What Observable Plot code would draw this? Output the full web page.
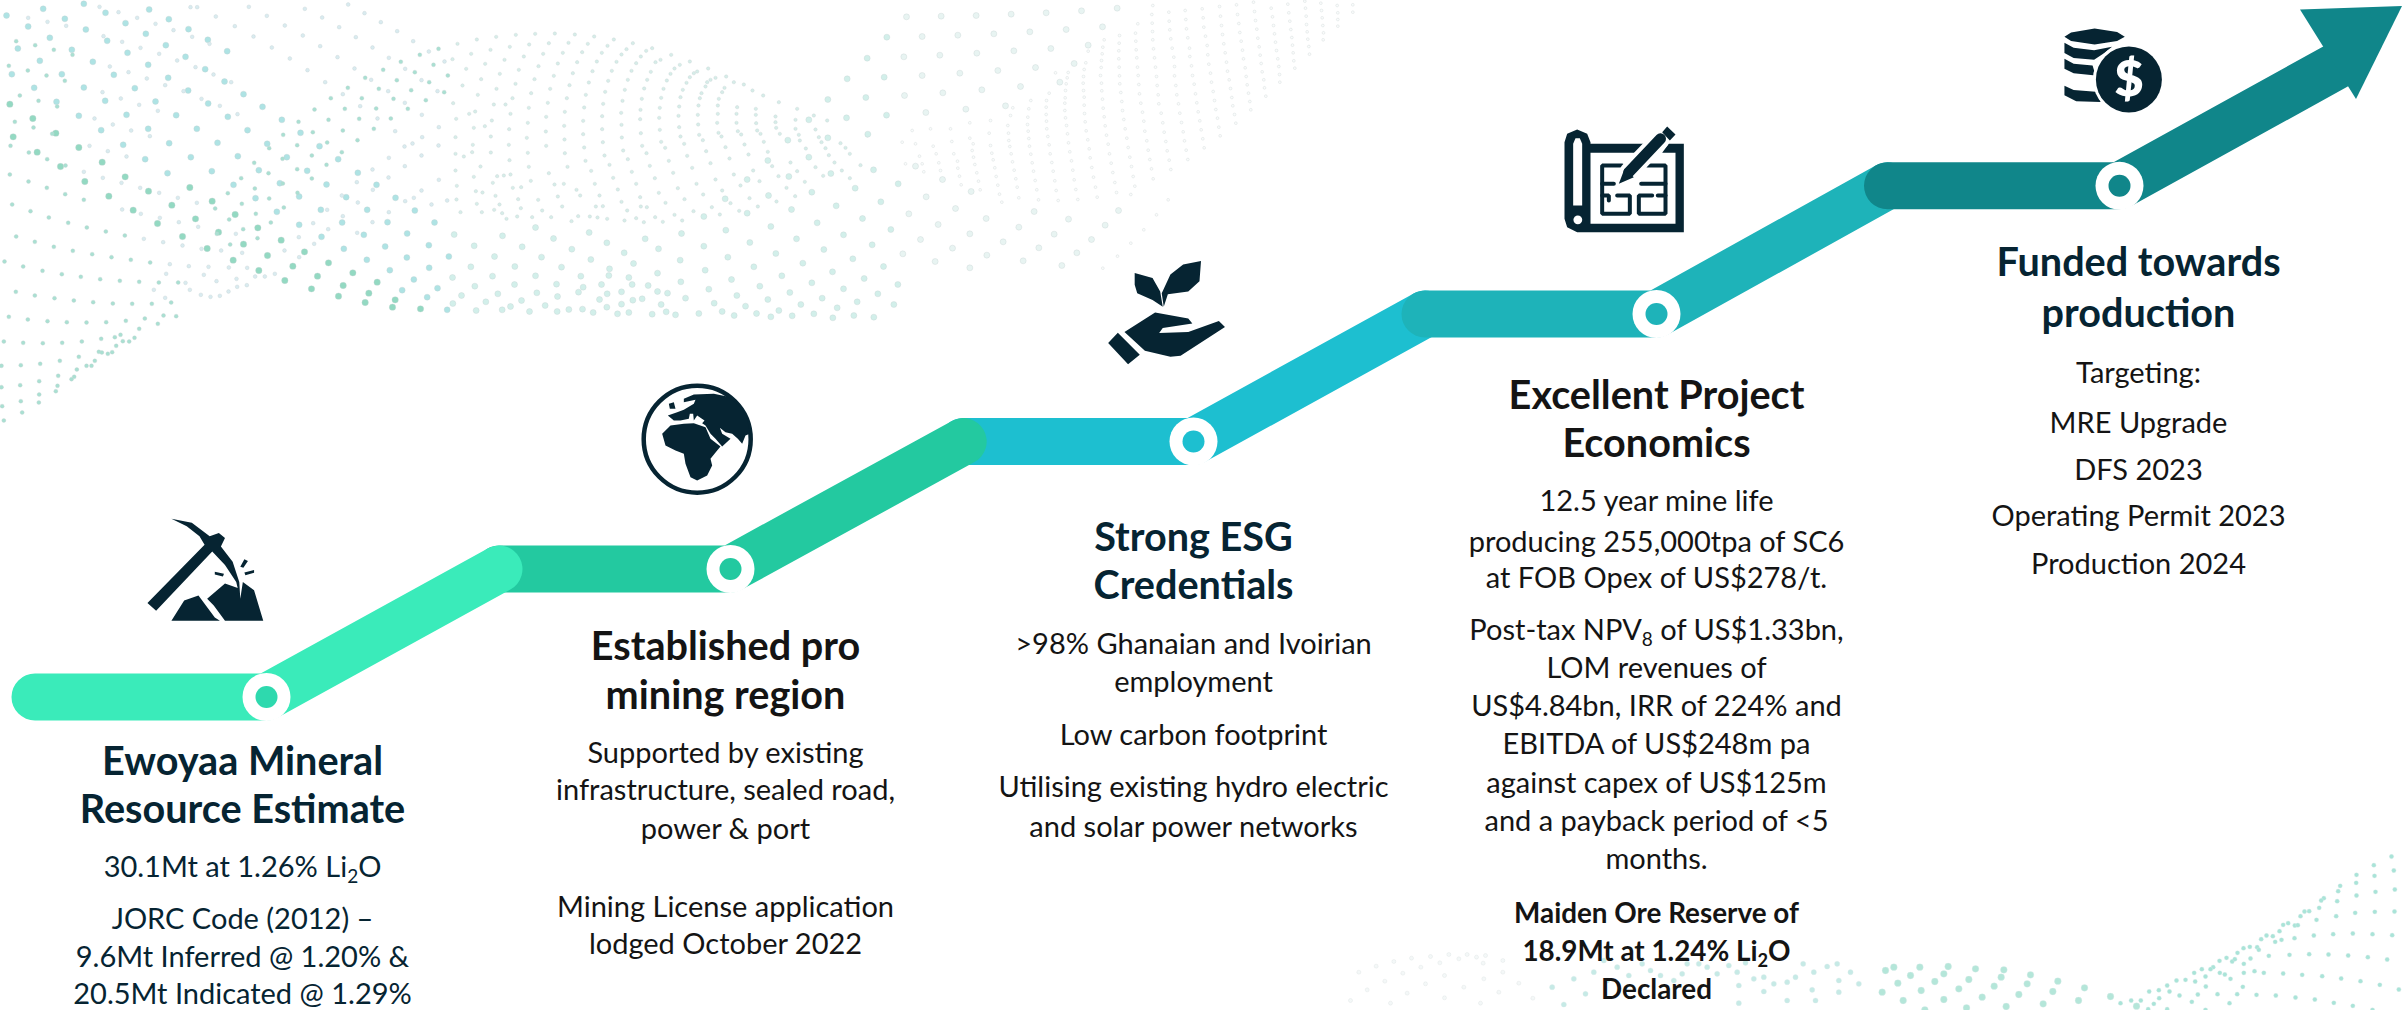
<!DOCTYPE html>
<html><head><meta charset="utf-8">
<style>html,body{margin:0;padding:0;background:#fff}svg{display:block}</style>
<script src="https://cdn.jsdelivr.net/npm/d3@7"></script>
<script src="https://cdn.jsdelivr.net/npm/@observablehq/plot@0.6"></script>
</head><body><div id="chart"></div>
<script>
// ---- crop read-offs: each list is in the pixels of one 3x crop of the picture
const leftBig=[[18,45],[128,25],[83,78],[193,55],[250,10],[315,37],[148,112],[256,87],[375,68],[446,27],[52,144],[214,148],[320,121],[436,100],[505,56],[118,181],[277,184],[381,157],[496,134],[564,86],[34,221],[184,221],[340,223],[443,193],[555,169],[622,118],[101,262],[250,261],[403,263],[503,232],[614,206],[680,152],[28,311],[168,304],[314,301],[465,303],[563,270],[672,243],[97,354],[235,346],[378,343],[527,344],[623,309],[729,281],[38,409],[166,398],[302,389],[443,385],[589,385],[682,349],[786,319],[110,455],[235,441],[368,433],[506,428],[651,427],[741,389],[844,358],[180,498],[305,485],[434,476],[571,470],[712,467],[800,430],[900,397],[253,543],[374,529],[501,518],[634,512],[775,509],[859,470],[957,437],[325,587],[444,572],[568,561],[699,553],[838,548],[920,511],[1013,476],[398,629],[514,614],[635,602],[765,593],[896,588],[978,552],[1072,517],[471,669],[585,655],[704,642],[829,634],[961,628],[1037,590],[1128,553],[546,708],[654,695],[772,682],[896,673],[1025,666],[1100,628],[1185,592],[620,744],[729,731],[842,719],[963,709],[1090,703],[1161,665],[1243,630],[698,779],[801,765],[912,754],[1030,745],[1154,738],[1220,699],[1302,666],[775,810],[877,797],[984,787],[1099,778],[1219,771],[1285,734],[853,840],[951,827],[1057,817],[1168,809],[1286,802],[1345,768],[933,865],[1028,855],[1130,845],[1240,837],[1014,887],[1105,878],[1205,869],[1311,863],[1094,906],[1184,898],[1280,890],[1176,920],[1260,925],[1340,928]];
const leftSmall=[[47,122],[104,134],[160,148],[216,163],[25,196],[82,210],[138,225],[193,241],[58,285],[114,301],[170,318],[43,364],[99,381],[155,400],[30,436],[85,456],[140,476],[195,495],[28,522],[84,543],[139,562],[194,581],[250,598],[35,612],[90,632],[145,651],[203,667],[259,681],[316,693],[373,705],[47,708],[103,724],[160,739],[217,751],[275,761],[333,770],[391,778],[449,786],[12,783],[68,798],[126,811],[184,821],[241,829],[299,836],[358,841],[416,844],[475,846],[533,846],[46,874],[103,885],[162,893],[220,900],[278,905],[337,909],[395,910],[454,910],[512,906],[25,949],[82,957],[141,962],[199,965],[258,966],[317,965],[376,961],[433,954],[489,945],[10,1023],[68,1027],[127,1028],[185,1027],[244,1023],[302,1015],[360,1003],[416,985],[472,970],[527,947],[3,1096],[61,1094],[119,1090],[178,1081],[235,1069],[295,1054],[347,1036],[402,1012],[3,1160],[59,1154],[116,1142],[173,1126],[229,1107],[283,1081],[335,1055],[386,1023],[5,1217],[61,1202],[116,1182],[171,1156],[221,1129],[273,1096],[322,1060],[367,1022],[10,1260],[65,1236],[115,1206],[166,1172],[213,1136],[258,1096],[304,1056],[343,1010],[1258,163],[1314,145],[1201,184],[1148,208],[1094,232],[1042,262],[991,293],[942,327],[894,364],[848,403],[806,443],[761,487],[722,533],[682,578],[644,624],[1299,193],[1243,215],[1189,239],[1135,265],[1084,293],[1033,325],[984,358],[937,395],[890,434],[846,475],[804,518],[763,564],[724,610],[686,657],[649,700],[1342,225],[1286,245],[1232,269],[1179,295],[1127,324],[1076,355],[1027,390],[980,426],[934,465],[890,506],[847,549],[806,594],[766,640],[728,686],[689,732],[1331,275],[1276,299],[1222,325],[1171,354],[1120,385],[1071,419],[1024,455],[978,493],[934,534],[891,577],[850,621],[811,666],[771,713]];
const leftPale=[[83,52],[141,64],[197,76],[297,19],[354,35],[410,52],[465,70],[519,89],[575,109],[627,130],[309,107],[365,124],[420,142],[476,160],[530,180],[585,200],[639,222],[692,245],[328,198],[384,215],[439,234],[494,254],[549,272],[603,295],[658,316],[711,341],[306,275],[361,294],[416,313],[472,331],[282,354],[337,372],[392,390],[448,407],[267,436],[322,452],[378,468],[250,514],[307,532],[363,547],[419,562],[476,577],[532,592],[589,607],[365,627],[421,640],[478,652],[535,665],[593,679],[706,700],[430,715],[488,725],[546,735],[603,745],[662,750],[725,757],[508,791],[565,797],[624,799],[685,801],[740,802],[497,820],[555,847],[610,823],[648,842],[708,835],[764,828],[823,820],[460,868],[494,892],[568,868],[601,883],[630,889],[658,886],[684,873],[710,859],[739,854],[793,828],[570,20],[590,20],[646,48],[703,77],[759,108],[814,141],[868,174],[921,209],[974,245],[1027,281],[1079,317],[1131,354],[1184,392],[1236,429],[745,19],[799,46],[853,75],[907,105],[959,137],[1011,170],[1062,204],[1112,238],[1163,272],[1213,307],[1264,343],[1315,380],[913,25],[965,51],[1016,80],[1066,110],[1116,141],[1165,172],[1214,205],[1263,239],[1311,272],[1043,12],[1092,38],[1141,65],[1190,92],[1238,122],[1285,153],[1332,183],[1265,410],[1212,438],[1165,472],[1116,507],[1069,545],[1024,585],[980,628],[938,668],[895,710],[852,750],[1314,435],[1263,465],[1213,497],[1164,531],[1117,568],[1072,606],[1027,647],[983,686],[941,730],[896,770],[1315,538],[1263,570],[1214,602],[1165,635],[1116,665],[1070,697],[1340,600],[1293,612],[1240,592]];
const humpSmall=[[21,130],[79,117],[137,109],[196,103],[254,100],[313,99],[373,102],[431,108],[490,117],[547,128],[605,143],[662,163],[718,183],[773,204],[827,228],[880,252],[938,285],[985,305],[1040,325],[1090,345],[1130,360],[6,176],[62,160],[120,148],[178,139],[236,132],[295,128],[354,127],[412,130],[471,136],[528,146],[587,151],[630,178],[688,193],[740,213],[795,232],[850,245],[906,270],[47,205],[104,190],[162,178],[220,168],[278,160],[337,157],[395,155],[454,157],[513,162],[571,168],[615,185],[672,204],[730,218],[780,238],[36,255],[92,236],[148,220],[205,208],[264,197],[322,189],[380,185],[439,183],[498,184],[557,188],[601,214],[660,220],[718,230],[770,245],[822,262],[82,283],[138,265],[195,250],[252,236],[310,226],[367,218],[426,212],[484,211],[543,211],[590,238],[649,240],[708,247],[765,258],[815,275],[130,312],[186,293],[242,278],[299,265],[357,254],[415,246],[473,241],[532,238],[581,264],[639,265],[697,268],[753,278],[805,295],[180,340],[235,322],[292,307],[349,293],[406,283],[464,274],[523,268],[574,295],[632,292],[690,290],[748,293],[802,315],[860,320],[916,325],[975,348],[232,367],[287,349],[343,334],[401,321],[458,310],[516,301],[570,328],[628,322],[686,318],[744,315],[802,340],[858,340],[916,343],[975,365],[1035,358],[286,393],[341,376],[398,361],[455,347],[512,337],[569,356],[626,352],[684,346],[742,343],[800,367],[858,367],[917,368],[977,382],[1035,385],[1095,387],[342,417],[398,401],[455,386],[513,373],[571,398],[628,388],[686,380],[743,372],[804,397],[862,392],[920,390],[988,400],[1045,403],[1105,410],[287,436],[401,441],[457,425],[514,411],[575,436],[632,424],[690,408],[746,403],[813,408],[872,402],[930,400],[1048,420],[1113,425],[1170,428],[343,458],[462,465],[518,450],[588,458],[644,442],[701,430],[757,419],[825,440],[882,432],[940,424],[1066,444],[1125,443],[1185,442],[405,481],[477,493],[532,476],[598,496],[655,481],[710,466],[767,452],[894,462],[952,454],[1135,464],[1198,460],[1250,405],[235,499],[351,499],[544,514],[613,533],[668,517],[725,502],[780,488],[837,474],[1020,486],[1152,486],[1230,494],[295,518],[422,511],[488,532],[557,550],[682,563],[738,550],[795,537],[850,522],[908,510],[965,497],[1095,500],[312,552],[340,550],[433,550],[502,567],[569,590],[625,577],[702,596],[758,582],[815,570],[870,555],[927,542],[984,527],[1040,512],[1118,526],[1174,510],[378,568],[389,585],[447,585],[513,604],[571,618],[645,607],[729,632],[784,620],[840,608],[897,593],[922,618],[978,603],[1008,562],[1063,544],[1198,533],[436,618],[457,617],[530,630],[589,620],[672,643],[808,642],[866,631],[1034,587],[383,647],[441,651],[470,655],[522,660],[557,653],[614,650],[695,660],[637,664],[580,665],[17,355],[70,382],[103,377],[124,360],[176,386],[229,412],[15,410],[67,433],[121,408],[175,433],[232,457],[15,460],[65,455],[121,456],[177,479],[15,510],[70,529],[127,547],[180,522],[241,541],[19,556],[76,572],[135,586],[147,612],[203,596],[79,610],[263,598],[322,588],[30,635],[94,635],[168,655],[200,648],[245,650],[302,650],[363,662],[131,628],[211,623],[275,630],[335,618],[418,648],[165,312],[8,308],[56,340],[74,333],[40,468],[90,498],[140,527],[160,525],[187,562],[212,560],[96,576],[155,638],[18,597]];
const humpBig=[[255,681],[11,702],[156,706],[309,714],[416,696],[71,736],[215,739],[364,746],[469,727],[584,715],[760,648],[693,699],[826,689],[961,678],[1100,667],[1236,654],[1321,687],[132,768],[273,770],[421,777],[521,757],[624,745],[760,737],[898,726],[1038,715],[1179,703],[1265,733],[61,799],[193,798],[333,800],[477,805],[549,789],[689,779],[832,770],[976,759],[1120,747],[1207,775],[126,827],[255,826],[391,827],[535,831],[621,818],[764,809],[910,799],[1057,788],[1299,798],[6,831],[73,857],[192,852],[318,851],[453,852],[593,855],[691,844],[843,837],[994,826],[1146,814],[1241,834],[33,885],[142,880],[259,877],[384,875],[513,874],[651,878],[775,866],[928,857],[1084,847],[1179,865],[1342,852],[7,909],[106,904],[213,900],[321,888],[447,897],[575,895],[705,893],[859,885],[1018,876],[1282,880],[77,930],[155,928],[237,933],[320,933],[396,926],[513,911],[632,912],[791,908],[952,897],[1115,893],[1220,904],[180,918],[284,915],[355,927],[469,920],[547,899],[885,917],[1051,912],[1160,922],[1330,912],[428,936],[501,940],[535,936],[605,941],[647,934],[675,943],[745,939],[815,933],[851,945],[918,939],[985,930],[961,949],[1025,946],[1090,940],[1147,952],[1210,945],[1270,950],[475,825],[545,852],[398,860],[470,880],[621,873],[824,595],[954,585],[1023,627],[1157,616],[1291,604],[1343,550],[1214,563],[1084,575],[890,638],[890,537],[1015,528],[1141,519],[1269,508],[1075,470],[952,480],[1012,419],[1132,412],[1252,401],[1075,358],[1188,352],[1308,344],[1132,297],[1246,291],[1190,235],[1301,230],[1250,173],[1309,110]];
const farBig=[[18,49],[122,47],[227,45],[332,41],[437,37],[543,31],[650,23],[65,108],[172,104],[280,100],[388,94],[497,87],[606,79],[10,169],[118,164],[229,158],[340,151],[451,144],[563,134],[65,225],[178,218],[292,210],[405,201],[521,189],[12,285],[127,277],[244,268],[360,258],[478,245],[76,336],[196,326],[315,316],[45,497],[126,537],[212,573],[77,589],[165,624],[25,640],[257,654],[113,672],[355,680],[208,700],[60,717],[308,724],[156,743],[7,760],[259,764],[104,783],[208,802],[368,781],[401,633],[504,656],[461,701],[415,742],[654,630],[614,674],[573,717],[529,757],[484,795]];
const farSmall=[[607,803],[651,767],[691,728],[730,688],[768,643],[803,598],[691,582],[757,15],[754,42],[755,68],[756,93],[757,118],[759,145],[762,172],[765,200],[768,228],[770,255],[773,283],[775,310],[782,338],[787,367],[791,395],[796,423],[800,451],[806,479],[811,507],[712,70],[705,98],[706,122],[707,148],[709,172],[711,200],[713,225],[715,252],[717,280],[721,308],[726,335],[730,362],[733,392],[739,421],[743,449],[748,477],[753,505],[758,535],[657,105],[656,128],[655,151],[655,175],[656,200],[657,226],[658,250],[661,276],[664,303],[666,330],[670,357],[674,385],[679,413],[683,441],[688,470],[693,498],[698,528],[703,557],[611,118],[607,140],[605,160],[603,180],[602,201],[600,225],[603,248],[604,271],[606,296],[608,323],[611,349],[614,376],[618,404],[623,431],[627,460],[632,488],[637,516],[643,546],[648,576],[563,152],[556,187],[551,207],[549,228],[548,248],[549,270],[551,290],[551,314],[552,339],[554,364],[557,391],[562,418],[566,445],[569,472],[574,501],[579,530],[585,560],[590,590],[465,217],[503,216],[500,232],[497,250],[495,270],[494,292],[493,308],[493,330],[495,352],[498,375],[501,400],[504,427],[508,454],[513,481],[517,509],[521,538],[526,567],[532,597],[446,278],[438,300],[437,320],[437,342],[438,362],[439,385],[442,408],[446,433],[449,460],[454,486],[458,512],[463,541],[467,570],[473,600],[391,300],[385,325],[382,350],[381,372],[383,392],[385,414],[387,437],[391,461],[395,487],[399,512],[404,540],[409,568],[414,598],[337,322],[330,345],[322,375],[324,398],[325,420],[328,438],[332,460],[336,484],[341,509],[346,535],[350,560],[355,592],[270,360],[266,398],[270,435],[274,458],[278,478],[283,502],[287,528],[292,554],[297,581],[304,605],[208,367],[208,413],[218,430],[215,450],[219,470],[223,492],[229,517],[234,542],[239,568],[150,385],[154,423],[160,460],[171,482],[172,503],[177,527],[182,553],[90,385],[98,437],[107,460],[115,487],[120,510],[35,390],[45,430],[57,467],[65,490],[70,514],[15,490],[5,425],[805,35],[806,62],[808,88],[811,115],[815,143],[820,170],[822,198],[822,226],[826,255],[829,283],[834,310],[838,338],[843,366],[848,394],[852,421],[857,449],[862,477],[854,30],[856,57],[858,85],[862,112],[867,143],[868,168],[873,196],[876,225],[881,251],[885,280],[889,307],[893,334],[898,361],[902,388],[907,415],[911,442],[905,25],[908,52],[910,80],[915,107],[920,135],[922,163],[925,191],[930,218],[933,245],[938,273],[942,300],[946,327],[951,353],[955,380],[959,406],[957,18],[960,47],[963,75],[966,102],[970,130],[974,157],[978,185],[981,212],[986,238],[990,264],[994,291],[997,316],[1002,342],[1006,368],[1008,13],[1011,42],[1015,69],[1018,96],[1022,122],[1026,149],[1029,175],[1034,202],[1037,228],[1040,253],[1044,278],[1048,303],[1051,328],[1059,5],[1062,33],[1065,60],[1069,86],[1072,113],[1076,139],[1079,164],[1082,189],[1085,214],[1090,238],[1092,262],[1096,287],[1112,23],[1116,49],[1119,75],[1122,100],[1125,125],[1128,150],[1132,175],[1135,198],[1137,222],[1138,245],[1162,11],[1165,37],[1168,62],[1171,87],[1174,111],[1176,134],[1178,157],[1180,181],[1183,203],[1213,2],[1215,23],[1217,47],[1218,72],[1220,94],[1222,116],[1225,138],[1227,161],[1261,8],[1263,30],[1265,52],[1267,75],[1269,97],[1268,118],[1310,15],[1312,37],[1312,57],[1312,77],[1357,13],[1357,35]];
const bottomFaint=[[30,210],[55,125],[80,178],[107,107],[133,152],[150,218],[160,93],[187,128],[200,188],[213,83],[241,110],[255,160],[270,78],[298,97],[312,135],[312,202],[325,72],[355,85],[370,170],[380,72],[408,80],[420,218],[428,98],[430,145],[435,75],[475,185],[487,90],[487,125],[535,158],[577,203]];
const bottomMid=[[635,170],[670,222],[700,145],[735,190],[760,125],[800,150],[790,90],[830,110],[865,135],[905,100],[930,120],[960,135],[1000,150],[1025,130],[1040,100],[1075,100],[1100,110],[1130,130],[1165,105],[1190,125],[1195,165],[1215,97],[1240,145],[1270,140],[1270,183],[1300,160],[1340,155],[1365,140],[1340,210],[1388,100],[1420,125],[1415,178],[1460,108],[1490,100],[1495,150],[1530,125],[1495,185],[1195,218],[1555,160],[1425,210]];
const rightBig=[[15,360],[40,350],[118,350],[203,348],[285,355],[370,358],[450,373],[532,392],[612,412],[690,438],[90,375],[190,370],[265,387],[362,380],[440,400],[517,423],[594,450],[768,467],[52,398],[163,393],[235,415],[341,407],[415,432],[488,460],[122,420],[305,440],[190,447],[68,450],[377,468],[258,472],[5,425],[133,478]];
const rightSmall=[[1533,18],[1480,44],[1540,60],[1428,73],[1482,76],[1427,97],[1379,106],[1373,122],[1428,135],[1485,124],[1543,117],[1330,143],[1322,150],[1370,152],[1316,172],[1272,183],[1286,182],[1260,197],[1308,208],[1367,197],[1424,187],[1483,184],[1542,183],[1208,223],[1223,218],[1243,225],[1252,224],[1197,242],[1158,255],[1177,257],[1142,266],[1184,274],[1203,268],[1242,263],[1300,255],[1358,251],[1417,249],[1476,251],[1535,254],[1108,289],[1130,290],[1089,293],[1135,298],[1071,307],[1165,316],[1227,313],[1286,311],[1344,312],[1403,315],[1462,320],[1520,327],[1038,322],[1017,331],[1055,333],[1063,326],[1110,324],[1090,340],[998,350],[964,356],[990,356],[941,367],[1018,367],[1033,372],[1090,367],[1122,362],[1150,367],[1208,369],[1265,373],[1325,377],[1382,384],[1440,392],[1498,403],[1555,417],[975,378],[888,390],[915,388],[944,393],[1050,385],[860,405],[976,408],[1087,409],[806,423],[835,419],[867,423],[897,435],[952,432],[1011,431],[1070,431],[1128,433],[1186,435],[1245,441],[1303,447],[1360,457],[1417,466],[1476,478],[836,443],[752,450],[781,450],[720,458],[820,460],[934,454],[1047,458],[803,476],[860,476],[975,478]];

// ---- ribbon
const ribbonY=[696.5,568.5,441,313.5,185.3,66];
const ribbonX=[34.5,266,498.5,730,962.7,1193,1424.5,1656,1887,2119,2335];
const ribbonColors=["#3AEBBA","#23C9A0","#1DBFD0","#1EB3B9","#10868A"];
const holeColors=["#2ED9AE","#23C9A0","#1DBFD0","#1EB3B9","#10868A"];
const ringX=[266,730,1193,1656,2119], ringY=[696.5,568.5,441,313.5,185.3];
const arrowHead={x1:[2300,2402],y1:[9.5,6],x2:[2356,2402],y2:[99,6]};

// ---- text
const navy="#062432", ink="#141414";
const titles=[
 ["Ewoyaa Mineral",242,776,navy],["Resource Estimate",242,824,navy],
 ["Established pro",725,661,ink],["mining region",725,710,ink],
 ["Strong ESG",1193,552,navy],["Credentials",1193,600,navy],
 ["Excellent Project",1656,410,ink],["Economics",1656,458,ink],
 ["Funded towards",2138,277,navy],["production",2138,328,navy]];
const bodies=[
 ["30.1Mt at 1.26% Li₂O",242,878,navy],["JORC Code (2012) –",242,930,navy],["9.6Mt Inferred @ 1.20% &",242,968,navy],["20.5Mt Indicated @ 1.29%",242,1005,navy],
 ["Supported by existing",725,764,ink],["infrastructure, sealed road,",725,801,ink],["power & port",725,840,ink],["Mining License application",725,918,ink],["lodged October 2022",725,955,ink],
 [">98% Ghanaian and Ivoirian",1193,655,ink],["employment",1193,693,ink],["Low carbon footprint",1193,746,ink],["Utilising existing hydro electric",1193,798,ink],["and solar power networks",1193,838,ink],
 ["12.5 year mine life",1656,512,ink],["producing 255,000tpa of SC6",1656,553,ink],["at FOB Opex of US$278/t.",1656,589,ink],["Post-tax NPV₈ of US$1.33bn,",1656,641,ink],["LOM revenues of",1656,679,ink],["US$4.84bn, IRR of 224% and",1656,717,ink],["EBITDA of US$248m pa",1656,755,ink],["against capex of US$125m",1656,794,ink],["and a payback period of <5",1656,832,ink],["months.",1656,870,ink],
 ["Targeting:",2138,384,ink],["MRE Upgrade",2138,434,ink],["DFS 2023",2138,481,ink],["Operating Permit 2023",2138,527,ink],["Production 2024",2138,575,ink]];
const boldBodies=[["Maiden Ore Reserve of",1656,922,ink],["18.9Mt at 1.24% Li₂O",1656,960,ink],["Declared",1656,998,ink]];

const pickaxe=[[[335,113],[375,125],[410,165],[428,155],[440,170],[432,195],[455,240],[468,300],[470,350],[462,300],[440,250],[415,210],[305,385],[288,362],[400,190],[390,165],[365,135]],
 [[335,415],[360,355],[388,340],[420,405],[430,415]],[[440,415],[418,370],[405,350],[440,305],[465,318],[470,350],[475,300],[497,325],[515,415]],
 [[470,255],[478,233],[485,238],[476,258]],[[420,270],[438,276],[436,284],[420,278]],[[478,272],[497,265],[497,273],[480,280]]];
const globeLand=[[[160,85],[190,72],[250,70],[290,78],[325,105],[350,145],[358,190],[345,195],[335,220],[322,205],[305,190],[285,185],[268,172],[275,190],[300,205],[275,228],[255,205],[240,190],[225,165],[215,158],[222,150],[200,135],[190,150],[188,130],[178,130],[175,145],[150,150],[130,150],[112,135],[140,125],[160,118],[190,100],[195,88],[160,95]],
 [[115,100],[130,95],[135,115],[118,115]],
 [[95,190],[120,165],[160,160],[190,158],[225,170],[240,205],[270,228],[260,240],[240,265],[245,285],[230,315],[200,330],[180,320],[165,280],[160,250],[135,240],[105,225]]];
const blueprint=[[[42,80],[50,55],[80,42],[110,55],[120,80],[120,85],[285,85],[285,112],[120,112],[120,325],[375,325],[375,112],[335,112],[355,85],[400,85],[400,350],[80,350],[50,335],[42,310]]];
const blueprintSlot=[[[68,85],[75,68],[88,68],[95,85],[95,270],[68,270]]];
const planLines=[[[215,150],[155,150],[155,295],[238,295],[238,240],[200,240]],[[155,205],[190,205]],[[155,240],[175,240],[175,255]],[[290,150],[345,150],[345,295],[265,295],[265,240],[305,240]],[[272,205],[345,205]],[[322,240],[345,240]]];
const pencilShaft=[[235,170],[330,70]];
const pencilTip=[[[205,205],[222,160],[250,185]],[[335,50],[350,33],[375,57],[358,75]]];
const plant=[[[655,155],[690,170],[705,210],[710,255],[690,235],[660,215],[655,190]],
 [[785,120],[782,180],[760,210],[720,218],[712,255],[708,215],[725,160],[750,130]],
 [[635,330],[695,272],[760,290],[768,305],[710,318],[703,333],[760,330],[820,297],[832,315],[745,400],[725,403],[675,385]],
 [[603,362],[622,332],[665,397],[642,425]]];
const coins=[[[907,107],[920,95],[966,83],[1010,93],[1025,107],[1010,120],[966,130],[920,120]],
 [[907,125],[925,140],[965,147],[1000,137],[985,155],[965,175],[925,170],[907,155]],
 [[907,172],[925,187],[962,192],[968,222],[925,215],[907,202]],
 [[907,252],[925,265],[968,270],[978,300],[930,298],[907,280]]];
const coinFace={x:2128.4,y:79};

// ---- helpers
const fromCrop=(ox,oy,sx=3,sy=3)=>p=>[ox+p[0]/sx,oy+p[1]/sy];
const pts=(list,ox,oy,sx,sy)=>list.map(fromCrop(ox,oy,sx,sy));
const polys=(list,ox,oy,sx,sy)=>({type:"MultiPolygon",coordinates:list.map(r=>{const q=pts(r,ox,oy,sx,sy);return [[...q,q[0]]];})});
const cloud=(list,ox,oy,r,fill,stroke="#c4d2d2")=>Plot.dot(pts(list,ox,oy),{x:d=>d[0],y:d=>d[1],r,fill,stroke,strokeWidth:.35});
const segs=[{c:ribbonColors[2],p:[[ribbonX[4],ribbonY[2]],[ribbonX[5],ribbonY[2]],[ribbonX[6],ribbonY[3]]]},
 {c:ribbonColors[1],p:[[ribbonX[2],ribbonY[1]],[ribbonX[3],ribbonY[1]],[ribbonX[4],ribbonY[2]]]},
 {c:ribbonColors[0],p:[[ribbonX[0],ribbonY[0]],[ribbonX[1],ribbonY[0]],[ribbonX[2],ribbonY[1]]]},
 {c:ribbonColors[3],p:[[ribbonX[6],ribbonY[3]],[ribbonX[7],ribbonY[3]],[ribbonX[8],ribbonY[4]]]},
 {c:ribbonColors[4],p:[[ribbonX[8],ribbonY[4]],[ribbonX[9],ribbonY[4]],[ribbonX[10],ribbonY[5]]]}];
const ribbonMarks=segs.map(s=>Plot.line(s.p,{x:d=>d[0],y:d=>d[1],stroke:s.c,strokeWidth:47,strokeLinecap:"round",strokeLinejoin:"round"}));
const family="Lato, Carlito, sans-serif";
const words=(rows,size,weight,dy,cls)=>Plot.text(rows,{x:d=>d[1],y:d=>d[2],text:d=>d[0],fill:d=>d[3],fontSize:size,fontWeight:weight,fontFamily:family,textAnchor:"middle",lineAnchor:"bottom",dy,className:cls});
const green=(x,y)=>y>0.5*x+270;

const chart=Plot.plot({
 width:2402,height:1010,margin:0,
 style:{background:"#fff",overflow:"hidden"},
 x:{axis:null,domain:[0,2402],range:[0,2402]},
 y:{axis:null,domain:[0,1010],range:[0,1010]},
 color:{type:"identity"},
 marks:[
  cloud(leftBig.filter(p=>green(p[0],p[1])),0,0,3.2,"#93D9C2"),
  cloud(leftBig.filter(p=>!green(p[0],p[1])),0,0,3,"#AEE3E4"),
  cloud(leftSmall,0,0,2,"#A9E0D2"),
  cloud(leftPale,0,0,1.9,"#D9EBF0"),
  cloud(humpSmall,450,0,1.7,"#D6EDE9"),
  cloud(humpBig,450,0,3,"#D2EFEA"),
  cloud(farBig,900,0,3,"#E8F4F2"),
  cloud(farSmall,900,0,1.4,"#FAFCFC","#c9d2d2"),
  cloud(bottomFaint,1340,930,2,"#F4F8F8","#d8e0e0"),
  cloud(bottomMid,1340,930,2.6,"#C6EAE6","#dfecec"),
  cloud(rightBig,1880,850,3.4,"#B4E6D9","#dfecec"),
  cloud(rightSmall,1880,850,2.2,"#A9E4D8","#dfecec"),
  ...ribbonMarks,
  Plot.area([0,1],{x1:i=>arrowHead.x1[i],y1:i=>arrowHead.y1[i],x2:i=>arrowHead.x2[i],y2:i=>arrowHead.y2[i],fill:ribbonColors[4]}),
  Plot.dot(ringX,{x:d=>d,y:(d,i)=>ringY[i],r:24,fill:"#fff"}),
  Plot.dot(ringX,{x:d=>d,y:(d,i)=>ringY[i],r:11,fill:(d,i)=>holeColors[i]}),
  Plot.geo(polys(pickaxe,0,480,1.96,2.958),{fill:navy}),
  Plot.dot([[696.7,438.7]],{x:d=>d[0],y:d=>d[1],r:53.5,fill:"#fff",stroke:navy,strokeWidth:4.5}),
  Plot.geo(polys(globeLand,630,370),{fill:navy}),
  Plot.geo(polys(plant,800,220,1.96,2.958),{fill:navy}),
  Plot.geo(polys(blueprint,1550,115),{fill:navy}),
  Plot.geo(polys(blueprintSlot,1550,115),{fill:"#fff"}),
  Plot.dot([[82,313]].map(fromCrop(1550,115)),{x:d=>d[0],y:d=>d[1],r:4.4,fill:"#fff"}),
  ...planLines.map(l=>Plot.line(pts(l,1550,115),{x:d=>d[0],y:d=>d[1],stroke:navy,strokeWidth:4,strokeLinejoin:"miter"})),
  Plot.line(pts(pencilShaft,1550,115),{x:d=>d[0],y:d=>d[1],stroke:"#fff",strokeWidth:19}),
  Plot.line(pts(pencilShaft,1550,115),{x:d=>d[0],y:d=>d[1],stroke:navy,strokeWidth:11}),
  Plot.geo(polys(pencilTip,1550,115),{fill:navy}),
  Plot.geo(polys(coins,1600,0,1.955,2.958),{fill:navy}),
  Plot.dot([coinFace],{x:"x",y:"y",r:36,fill:"#fff"}),
  Plot.dot([coinFace],{x:"x",y:"y",r:33,fill:navy}),
  Plot.text([coinFace],{x:"x",y:"y",text:()=>"$",fill:"#fff",fontSize:50,fontWeight:800,fontFamily:family,lineAnchor:"middle"}),
  words(titles,40,700,-2,"t-title"),
  words(bodies,29,400,-2,"t-body"),
  words(boldBodies,29,700,0,"t-bold")
 ]
});
// Widths of the reference's lettering: Lato is narrowed a little per text role
const narrow=[["t-title",0.99],["t-bold",0.96]];
narrow.forEach(([c,s])=>chart.querySelectorAll("."+c+" text, text."+c).forEach(t=>{t.setAttribute("transform",(t.getAttribute("transform")||"")+` scale(${s},1)`);}));
// Real subscripts, as in the reference
const subs={"₂":"2","₈":"8"};
chart.querySelectorAll("text").forEach(t=>{
 const m=t.textContent.match(/^(.*)([₂₈])(.*)$/); if(!m) return;
 t.textContent="";
 const add=(txt,dy,fs)=>{const s=document.createElementNS("http://www.w3.org/2000/svg","tspan");s.textContent=txt;if(dy)s.setAttribute("dy",dy);if(fs)s.setAttribute("font-size",fs);t.append(s);};
 add(m[1]); add(subs[m[2]],"6",19); add(m[3],"-6");
});
document.getElementById("chart").append(chart);
</script>
</body></html>
